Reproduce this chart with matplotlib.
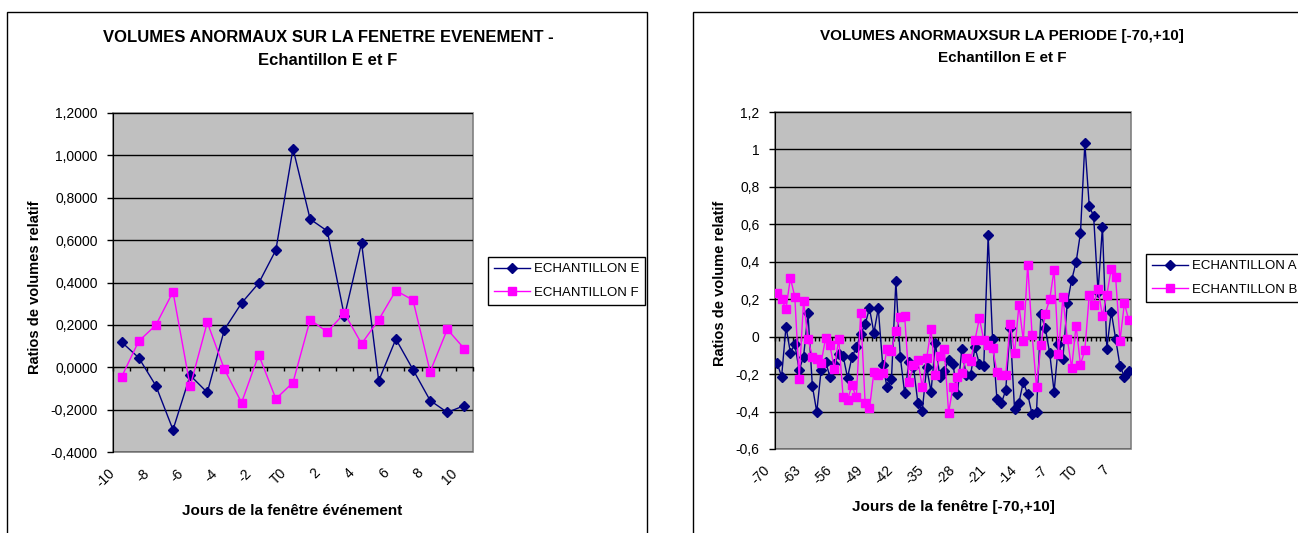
import matplotlib.pyplot as plt
import matplotlib.transforms as mtransforms
from matplotlib.patches import Rectangle
import numpy as np

plt.rcParams['font.family'] = ['Liberation Sans', 'DejaVu Sans']

W, H = 1298, 533

# fenetre evenement [-10,+10]
jours_evt = list(range(-10, 11))
echantillon_e = [0.119, 0.045, -0.087, -0.295, -0.038, -0.119, 0.178, 0.303, 0.397, 0.553,
                 1.032, 0.699, 0.643, 0.240, 0.587, -0.064, 0.133, -0.011, -0.157, -0.213, -0.181]
echantillon_f = [-0.046, 0.123, 0.199, 0.356, -0.090, 0.212, -0.010, -0.167, 0.059, -0.149,
                 -0.072, 0.224, 0.167, 0.255, 0.111, 0.224, 0.362, 0.317, -0.021, 0.179, 0.087]

# periode [-70,+10]
jours_periode = list(range(-70, 11))
echantillon_a = [-0.142, -0.214, 0.053, -0.085, -0.041, -0.178, -0.107, 0.125, -0.263, -0.402,
                 -0.178, -0.133, -0.214, -0.146, -0.093, -0.103, -0.219, -0.110, -0.057, 0.014,
                 0.066, 0.151, 0.021, 0.151, -0.151, -0.270, -0.228, 0.295, -0.107, -0.302,
                 -0.133, -0.160, -0.352, -0.397, -0.164, -0.294, -0.036, -0.214, -0.183, -0.125,
                 -0.146, -0.308, -0.068, -0.205, -0.205, -0.057, -0.146, -0.157, 0.541, -0.012,
                 -0.335, -0.356, -0.285, 0.048, -0.388, -0.352, -0.242, -0.308, -0.415, -0.402,
                 0.119, 0.045, -0.087, -0.295, -0.038, -0.119, 0.178, 0.303, 0.397, 0.553,
                 1.032, 0.699, 0.643, 0.240, 0.587, -0.064, 0.133, -0.011, -0.157, -0.213, -0.181]
echantillon_b = [0.235, 0.199, 0.149, 0.313, 0.214, -0.224, 0.190, -0.011, -0.107, -0.121,
                 -0.139, -0.009, -0.046, -0.171, -0.011, -0.324, -0.338, -0.260, -0.324, 0.128,
                 -0.352, -0.383, -0.189, -0.205, -0.196, -0.064, -0.075, 0.028, 0.107, 0.112,
                 -0.240, -0.153, -0.125, -0.267, -0.116, 0.039, -0.205, -0.103, -0.068, -0.406,
                 -0.267, -0.214, -0.196, -0.116, -0.128, -0.018, 0.098, -0.018, -0.044, -0.059,
                 -0.189, -0.203, -0.203, 0.068, -0.089, 0.169, -0.021, 0.384, 0.009, -0.267,
                 -0.046, 0.123, 0.199, 0.356, -0.090, 0.212, -0.010, -0.167, 0.059, -0.149,
                 -0.072, 0.224, 0.167, 0.255, 0.111, 0.224, 0.362, 0.317, -0.021, 0.179, 0.087]

NAVY = '#000080'
MAGENTA = '#FF00FF'


def box(left, top, right, bottom):
    # pixel box -> figure fraction [l, b, w, h]
    return [left / W, 1 - bottom / H, (right - left) / W, (bottom - top) / H]


def fmt_left(v):
    return '{:.4f}'.format(v + 0.0).replace('.', ',')


def fmt_right(v):
    v = round(v, 1)
    if abs(v) < 1e-9:
        v = 0.0
    return '{:g}'.format(v).replace('.', ',')


def draw_chart(fig, ax_box, jours, s1, s2, names, ylim, yfmt, step, legend_xy):
    ax = fig.add_axes(box(*ax_box))
    n = len(jours)
    x = np.arange(n)
    ax.set_facecolor('#C0C0C0')
    ax.plot(x, s1, color=NAVY, lw=1, marker='D', ms=5.5, label=names[0], zorder=3)
    ax.plot(x, s2, color=MAGENTA, lw=1, marker='s', ms=6, label=names[1], zorder=4)
    ax.set_xlim(-0.5, n - 0.5)
    ax.set_ylim(*ylim)

    yt = np.arange(ylim[0], ylim[1] + 1e-6, 0.2)
    ax.set_yticks(yt)
    ax.set_yticklabels([yfmt(v) for v in yt], fontsize=10)
    ax.tick_params(axis='y', length=4, width=1, pad=7, color='black')
    ax.grid(axis='y', color='black', lw=1)
    ax.set_axisbelow(True)

    # category axis crosses at zero with small ticks between categories
    ax.spines['bottom'].set_position(('data', 0))
    ax.spines['top'].set_visible(False)
    ax.spines['right'].set_visible(False)
    ax.set_xticks([])
    ax.set_xticks(np.arange(n + 1) - 0.5, minor=True)
    ax.tick_params(axis='x', which='minor', length=3, width=1, direction='out')
    ax.add_patch(Rectangle((0, 0), 1, 1, transform=ax.transAxes, fill=False,
                           edgecolor='#808080', lw=1.2, zorder=0.5, clip_on=False))

    trans = mtransforms.blended_transform_factory(ax.transData, ax.transAxes)
    trans = mtransforms.offset_copy(trans, fig=fig, x=-9, y=-19, units='dots')
    for i in range(0, n, step):
        lab = 'T0' if jours[i] == 0 else str(jours[i])
        ax.text(i, 0, lab, transform=trans, rotation=45, rotation_mode='anchor',
                ha='right', va='center', fontsize=10)

    lx, ly = legend_xy
    leg = ax.legend(loc='upper left', bbox_to_anchor=(lx / W, 1 - ly / H),
                    bbox_transform=fig.transFigure, fontsize=9.5, frameon=True,
                    fancybox=False, edgecolor='black', framealpha=1,
                    handlelength=2.7, handletextpad=0.3, borderpad=0.45,
                    labelspacing=0.85, borderaxespad=0)
    leg.get_frame().set_linewidth(1)
    return ax


fig = plt.figure(figsize=(W / 100, H / 100), dpi=100)

# chart borders
fig.patches.append(Rectangle((7 / W, -0.1), 640 / W, 1.1 - 12 / H, transform=fig.transFigure,
                             fill=False, edgecolor='black', lw=1))
fig.patches.append(Rectangle((693 / W, -0.1), 700 / W, 1.1 - 12 / H, transform=fig.transFigure,
                             fill=False, edgecolor='black', lw=1))

draw_chart(fig, (113, 113, 473, 452), jours_evt, echantillon_e, echantillon_f,
           ['ECHANTILLON E', 'ECHANTILLON F'], (-0.4, 1.2), fmt_left, 2, (488, 257))
draw_chart(fig, (775, 112, 1131, 449), jours_periode, echantillon_a, echantillon_b,
           ['ECHANTILLON A', 'ECHANTILLON B'], (-0.6, 1.2), fmt_right, 7, (1146, 254))

# titles and axis labels
fig.text(328 / W, 1 - 37 / H, 'VOLUMES ANORMAUX SUR LA FENETRE EVENEMENT -', ha='center',
         va='center', fontsize=12, fontweight='bold')
fig.text(328 / W, 1 - 60.5 / H, 'Echantillon E et F', ha='center', va='center',
         fontsize=12, fontweight='bold')
fig.text(35 / W, 1 - 287 / H, 'Ratios de volumes relatif', rotation=90, ha='center',
         va='center', fontsize=10.5, fontweight='bold')
fig.text(292 / W, 1 - 511 / H, 'Jours de la fenêtre événement', ha='center', va='center',
         fontsize=11, fontweight='bold')

fig.text(1002 / W, 1 - 36 / H, 'VOLUMES ANORMAUXSUR LA PERIODE [-70,+10]', ha='center',
         va='center', fontsize=11, fontweight='bold')
fig.text(1002 / W, 1 - 58.5 / H, 'Echantillon E et F', ha='center', va='center',
         fontsize=11, fontweight='bold')
fig.text(720.5 / W, 1 - 283.5 / H, 'Ratios de volume relatif', rotation=90, ha='center',
         va='center', fontsize=10.5, fontweight='bold')
fig.text(953 / W, 1 - 507.5 / H, 'Jours de la fenêtre [-70,+10]', ha='center', va='center',
         fontsize=11, fontweight='bold')

fig.savefig('out.png', dpi=100)
